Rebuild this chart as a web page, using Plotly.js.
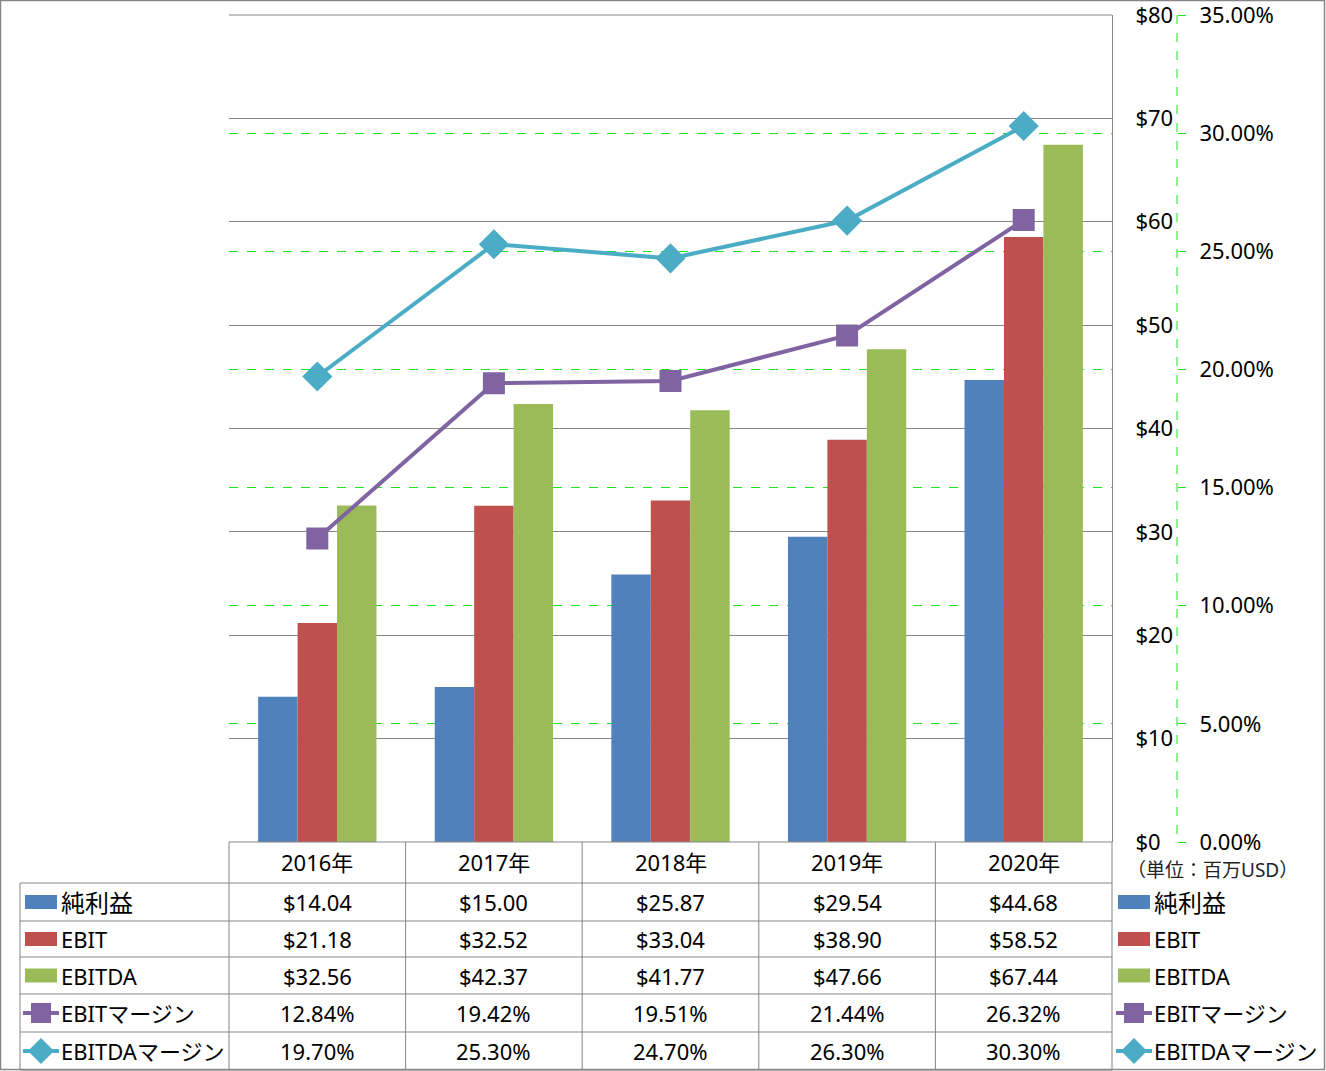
<!DOCTYPE html>
<html><head><meta charset="utf-8">
<script src="https://cdn.plot.ly/plotly-3.0.1.min.js"></script>
<style>html,body{margin:0;padding:0;background:#fff;}#chart{width:1326px;height:1071px;}</style>
</head><body><div id="chart"></div>
<script>
// ---- data ----
const years = ['2016年','2017年','2018年','2019年','2020年'];
const netIncome = [14.04, 15.00, 25.87, 29.54, 44.68];
const ebit = [21.18, 32.52, 33.04, 38.90, 58.52];
const ebitda = [32.56, 42.37, 41.77, 47.66, 67.44];
const ebitMargin = [12.84, 19.42, 19.51, 21.44, 26.32];
const ebitdaMargin = [19.70, 25.30, 24.70, 26.30, 30.30];
const seriesNames = ['純利益', 'EBIT', 'EBITDA', 'EBITマージン', 'EBITDAマージン'];
const unitLabel = '（単位：百万USD）';

// ---- styling ----
const W = 1326, H = 1071;
const C = {blue:'#4F81BD', red:'#C0504D', green:'#9BBB59', purple:'#8064A2', teal:'#4BACC6'};
const GRID = '#868686', LIME = '#22e022';
const FONT = 'Noto Sans, "Noto Sans CJK JP", sans-serif';
const X = p => p / W, Y = p => 1 - p / H;
const plotL = 229, plotR = 1112, plotT = 15, plotB = 842, y2x = 1177;

const traces = [
  {type:'bar', name:seriesNames[0], x:years, y:netIncome, marker:{color:C.blue}},
  {type:'bar', name:seriesNames[1], x:years, y:ebit, marker:{color:C.red}},
  {type:'bar', name:seriesNames[2], x:years, y:ebitda, marker:{color:C.green}},
  {type:'scatter', mode:'lines+markers', name:seriesNames[3], x:years, y:ebitMargin, yaxis:'y2',
   line:{color:C.purple, width:4}, marker:{symbol:'square', size:19, color:C.purple, line:{color:C.purple, width:3}}},
  {type:'scatter', mode:'lines+markers', name:seriesNames[4], x:years, y:ebitdaMargin, yaxis:'y2',
   line:{color:C.teal, width:4}, marker:{symbol:'diamond', size:21, color:C.teal, line:{color:C.teal, width:2}}}
];

// ---- table ----
const rowTop = [883, 921, 957, 994, 1032];
const rowBot = [921, 957, 994, 1032, 1070];
const rowMid = rowTop.map((t,i) => (t + rowBot[i]) / 2);
const headerMid = 862;
const rows = [
  netIncome.map(v => '$' + v.toFixed(2)),
  ebit.map(v => '$' + v.toFixed(2)),
  ebitda.map(v => '$' + v.toFixed(2)),
  ebitMargin.map(v => v.toFixed(2) + '%'),
  ebitdaMargin.map(v => v.toFixed(2) + '%')
];

const shapes = [];
const annotations = [];
const ln = (x0,y0,x1,y1,color,width,dash) => shapes.push({type:'line', xref:'paper', yref:'paper',
  x0:X(x0), y0:Y(y0), x1:X(x1), y1:Y(y1), line:{color:color, width:width||1, dash:dash||'solid'}, layer:'above'});

// outer border
shapes.push({type:'rect', xref:'paper', yref:'paper', x0:X(0.5), x1:X(W-1.5), y0:Y(0.5), y1:Y(H-1.5),
  line:{color:GRID, width:1.5}, layer:'above'});
// secondary axis dashed line
ln(y2x, plotT, y2x, plotB, LIME, 1, 'dash');
// top gridline ($80) that plotly omits at the range edge
shapes.push({type:'path', xref:'paper', yref:'paper',
  path:`M ${X(plotL)} ${Y(plotT)} L ${X(plotR)} ${Y(plotT)}`, line:{color:GRID, width:1}, layer:'below'});

// table grid
ln(plotL, plotB, plotR, plotB, GRID, 1);
rowTop.forEach(t => ln(20, t, plotR, t, GRID, 1));
ln(20, 1070, plotR, 1070, GRID, 1);
ln(20, 883, 20, 1070, GRID, 1);
const colW = (plotR - plotL) / years.length;
for (let i = 0; i <= years.length; i++) ln(plotL + i*colW, plotB, plotL + i*colW, 1070, GRID, 1);

// table texts
years.forEach((yr, i) => {
  annotations.push({xref:'x', yref:'paper', x:yr, y:Y(headerMid), text:yr, showarrow:false,
    font:{family:FONT, size:22, color:'#000'}, xanchor:'center', yanchor:'middle'});
  rows.forEach((r, j) => annotations.push({xref:'x', yref:'paper', x:yr, y:Y(rowMid[j]), text:r[i], showarrow:false,
    font:{family:FONT, size:22, color:'#000'}, xanchor:'center', yanchor:'middle'}));
});

// legend keys (left column and right side)
const keyColors = [C.blue, C.red, C.green, C.purple, C.teal];
function legendKey(x0, textX, j) {
  const cy = rowMid[j];
  if (j < 3) {
    shapes.push({type:'rect', xref:'paper', yref:'paper', x0:X(x0+2), x1:X(x0+34), y0:Y(cy-7), y1:Y(cy+7),
      fillcolor:keyColors[j], line:{width:0}, layer:'above'});
  } else {
    ln(x0, cy, x0+36, cy, keyColors[j], 4);
    const cx = x0 + 18;
    if (j === 3) {
      shapes.push({type:'rect', xref:'paper', yref:'paper', x0:X(cx-10), x1:X(cx+10), y0:Y(cy-10), y1:Y(cy+10),
        fillcolor:keyColors[j], line:{width:0}, layer:'above'});
    } else {
      const d = 13;
      shapes.push({type:'path', xref:'paper', yref:'paper',
        path:`M ${X(cx-d)} ${Y(cy)} L ${X(cx)} ${Y(cy-d)} L ${X(cx+d)} ${Y(cy)} L ${X(cx)} ${Y(cy+d)} Z`,
        fillcolor:keyColors[j], line:{width:0}, layer:'above'});
    }
  }
  annotations.push({xref:'paper', yref:'paper', x:X(textX), y:Y(cy), text:seriesNames[j], showarrow:false,
    xanchor:'left', yanchor:'middle', font:{family:FONT, size:(j === 0 ? 24 : 22), color:'#000'}});
}
seriesNames.forEach((n, j) => { legendKey(23, 59, j); legendKey(1116, 1152, j); });

annotations.push({xref:'paper', yref:'paper', x:X(1125), y:Y(870), text:unitLabel, showarrow:false,
  xanchor:'left', yanchor:'middle', font:{family:FONT, size:19, color:'#222'}});

const layout = {
  width: W, height: H,
  margin: {l:0, r:0, t:0, b:0},
  paper_bgcolor:'#fff', plot_bgcolor:'#fff',
  showlegend:false,
  barmode:'group', bargap:0.33, bargroupgap:0,
  font:{family:FONT, size:22, color:'#000'},
  xaxis: {domain:[X(plotL), X(plotR)], anchor:'y', type:'category', range:[-0.5, 4.5],
    showticklabels:false, showgrid:false, zeroline:false, ticks:'', showline:false},
  yaxis: {domain:[Y(plotB), Y(plotT)], anchor:'x', side:'right', range:[0, 80], dtick:10, tickprefix:'$',
    showline:true, linecolor:GRID, linewidth:1, gridcolor:GRID, gridwidth:1, zeroline:false, ticks:'',
    ticklabeloverflow:'allow', ticklabelstandoff:18, tickfont:{family:FONT, size:22, color:'#000'}},
  yaxis2: {overlaying:'y', anchor:'free', position:X(y2x), side:'right', range:[0, 35], dtick:5,
    tickformat:'.2f', ticksuffix:'%', ticks:'outside', ticklen:8, tickcolor:LIME, tickwidth:1,
    showgrid:true, gridcolor:LIME, griddash:'dash', gridwidth:1, zeroline:false, showline:false,
    ticklabeloverflow:'allow', ticklabelstandoff:9, tickfont:{family:FONT, size:22, color:'#000'}},
  shapes: shapes,
  annotations: annotations
};

Plotly.newPlot('chart', traces, layout, {displayModeBar:false, staticPlot:true});
</script>
</body></html>
